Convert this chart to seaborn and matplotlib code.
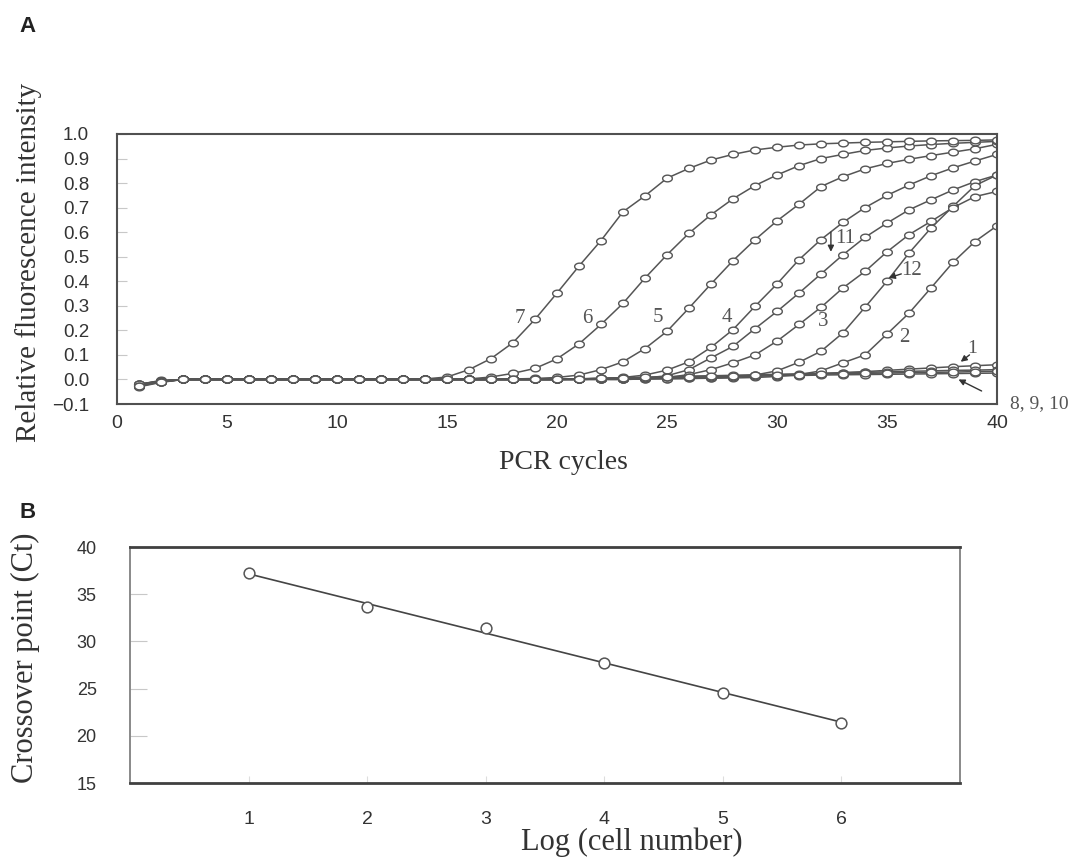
import numpy as np
import pandas as pd
import seaborn as sns
import matplotlib.pyplot as plt

# ---- panel A: amplification curves ----
cycles = list(range(1, 41))

curve_1 = [-0.025, -0.008, 0.0, 0.0, 0.0, 0.0, 0.0, 0.0, 0.0, 0.0,
           0.0, 0.0, 0.0, 0.0, 0.0, 0.0, 0.0, 0.0, 0.0, 0.0,
           0.0, 0.002, 0.003, 0.004, 0.005, 0.008, 0.010, 0.012, 0.015, 0.018,
           0.020, 0.024, 0.028, 0.032, 0.037, 0.042, 0.047, 0.052, 0.056, 0.060]
curve_2 = [-0.022, -0.006, 0.0, 0.0, 0.0, 0.0, 0.0, 0.0, 0.0, 0.0,
           0.0, 0.0, 0.0, 0.0, 0.0, 0.0, 0.0, 0.0, 0.0, 0.0,
           0.0, 0.0, 0.0, 0.002, 0.003, 0.004, 0.005, 0.006, 0.008, 0.012,
           0.020, 0.035, 0.068, 0.100, 0.185, 0.270, 0.373, 0.477, 0.562, 0.626]
curve_3 = [-0.024, -0.008, 0.0, 0.0, 0.0, 0.0, 0.0, 0.0, 0.0, 0.0,
           0.0, 0.0, 0.0, 0.0, 0.0, 0.0, 0.0, 0.0, 0.0, 0.0,
           0.0, 0.002, 0.003, 0.005, 0.008, 0.020, 0.040, 0.068, 0.100, 0.156,
           0.224, 0.294, 0.373, 0.440, 0.520, 0.590, 0.644, 0.700, 0.745, 0.766]
curve_4 = [-0.020, -0.010, 0.0, 0.0, 0.0, 0.0, 0.0, 0.0, 0.0, 0.0,
           0.0, 0.0, 0.0, 0.0, 0.0, 0.0, 0.0, 0.0, 0.0, 0.0,
           0.002, 0.004, 0.008, 0.018, 0.038, 0.072, 0.131, 0.203, 0.298, 0.389,
           0.488, 0.570, 0.640, 0.700, 0.750, 0.792, 0.830, 0.862, 0.890, 0.917]
curve_5 = [-0.022, -0.008, 0.0, 0.0, 0.0, 0.0, 0.0, 0.0, 0.0, 0.0,
           0.0, 0.0, 0.0, 0.0, 0.0, 0.0, 0.0, 0.002, 0.004, 0.008,
           0.018, 0.040, 0.072, 0.126, 0.196, 0.291, 0.389, 0.484, 0.569, 0.646,
           0.714, 0.786, 0.826, 0.858, 0.880, 0.897, 0.912, 0.926, 0.940, 0.958]
curve_6 = [-0.020, -0.006, 0.0, 0.0, 0.0, 0.0, 0.0, 0.0, 0.0, 0.0,
           0.0, 0.0, 0.0, 0.0, 0.0, 0.002, 0.010, 0.025, 0.045, 0.084,
           0.145, 0.224, 0.310, 0.413, 0.508, 0.596, 0.671, 0.736, 0.790, 0.833,
           0.871, 0.900, 0.917, 0.933, 0.943, 0.951, 0.957, 0.962, 0.966, 0.970]
curve_7 = [-0.025, -0.010, 0.0, 0.0, 0.0, 0.0, 0.0, 0.0, 0.0, 0.0,
           0.0, 0.0, 0.0, 0.002, 0.010, 0.040, 0.085, 0.150, 0.245, 0.352,
           0.462, 0.566, 0.683, 0.748, 0.820, 0.860, 0.894, 0.917, 0.935, 0.946,
           0.955, 0.960, 0.963, 0.966, 0.968, 0.970, 0.972, 0.973, 0.974, 0.976]
curve_8 = [-0.030, -0.012, 0.0, 0.0, 0.0, 0.0, 0.0, 0.0, 0.0, 0.0,
           0.0, 0.0, 0.0, 0.0, 0.0, 0.0, 0.0, 0.0, 0.0, 0.0,
           0.002, 0.004, 0.005, 0.006, 0.008, 0.009, 0.010, 0.012, 0.013, 0.015,
           0.016, 0.018, 0.019, 0.020, 0.021, 0.022, 0.023, 0.024, 0.025, 0.026]
curve_9 = [-0.028, -0.010, 0.0, 0.0, 0.0, 0.0, 0.0, 0.0, 0.0, 0.0,
           0.0, 0.0, 0.0, 0.0, 0.0, 0.0, 0.0, 0.0, 0.0, 0.0,
           0.002, 0.004, 0.006, 0.008, 0.010, 0.012, 0.014, 0.015, 0.017, 0.019,
           0.020, 0.022, 0.023, 0.025, 0.026, 0.028, 0.029, 0.030, 0.032, 0.033]
curve_10 = [-0.026, -0.009, 0.0, 0.0, 0.0, 0.0, 0.0, 0.0, 0.0, 0.0,
            0.0, 0.0, 0.0, 0.0, 0.0, 0.0, 0.0, 0.0, 0.0, 0.0,
            0.003, 0.005, 0.007, 0.009, 0.011, 0.013, 0.015, 0.017, 0.019, 0.021,
            0.023, 0.025, 0.027, 0.029, 0.031, 0.033, 0.035, 0.037, 0.038, 0.040]
curve_11 = [-0.020, -0.004, 0.0, 0.0, 0.0, 0.0, 0.0, 0.0, 0.0, 0.0,
            0.0, 0.0, 0.0, 0.0, 0.0, 0.0, 0.0, 0.0, 0.0, 0.0,
            0.0, 0.002, 0.003, 0.006, 0.015, 0.040, 0.088, 0.135, 0.207, 0.277,
            0.352, 0.430, 0.508, 0.579, 0.637, 0.691, 0.732, 0.772, 0.806, 0.833]
curve_12 = [-0.020, -0.005, 0.0, 0.0, 0.0, 0.0, 0.0, 0.0, 0.0, 0.0,
            0.0, 0.0, 0.0, 0.0, 0.0, 0.0, 0.0, 0.0, 0.0, 0.0,
            0.0, 0.0, 0.0, 0.002, 0.003, 0.004, 0.006, 0.010, 0.018, 0.035,
            0.070, 0.115, 0.190, 0.294, 0.400, 0.515, 0.617, 0.705, 0.790, 0.833]

a_xticks = [0, 5, 10, 15, 20, 25, 30, 35, 40]
a_yticks = [-0.1, 0.0, 0.1, 0.2, 0.3, 0.4, 0.5, 0.6, 0.7, 0.8, 0.9, 1.0]

# ---- panel B: standard curve ----
log_cells = [1, 2, 3, 4, 5, 6]
crossover_ct = [37.2, 33.6, 31.4, 27.7, 24.5, 21.4]
b_xticks = [1, 2, 3, 4, 5, 6]
b_yticks = [15, 20, 25, 30, 35, 40]

curves = {"1": curve_1, "2": curve_2, "3": curve_3, "4": curve_4,
          "5": curve_5, "6": curve_6, "7": curve_7, "8": curve_8,
          "9": curve_9, "10": curve_10, "11": curve_11, "12": curve_12}
df_a = pd.DataFrame(
    [(name, c, v) for name, vals in curves.items() for c, v in zip(cycles, vals)],
    columns=["curve", "cycle", "intensity"])

sns.set_theme(style="white")
plt.rcParams["font.family"] = ["Liberation Sans", "DejaVu Sans"]
SERIF = ["Liberation Serif", "DejaVu Serif"]
ink = "#555555"
text_col = "#333333"

fig = plt.figure(figsize=(10.86, 8.6), dpi=100)
ax_a = fig.add_axes([117 / 1086, 1 - 404 / 860, 880 / 1086, 270 / 860])
ax_b = fig.add_axes([130 / 1086, 1 - 783 / 860, 830 / 1086, 236 / 860])

# small horizontal ovals like the original markers
theta = np.linspace(0, 2 * np.pi, 25)
oval = np.column_stack([1.45 * np.cos(theta), np.sin(theta)])

sns.lineplot(data=df_a, x="cycle", y="intensity", units="curve", estimator=None,
             ax=ax_a, color=ink, linewidth=1.1, marker=oval, markersize=7,
             markerfacecolor="white", markeredgecolor=ink, markeredgewidth=1.0,
             legend=False)

ax_a.set_xlim(0, 40)
ax_a.set_ylim(-0.1, 1.0)
ax_a.set_xticks(a_xticks)
ax_a.set_xticklabels([str(t) for t in a_xticks])
ax_a.set_yticks(a_yticks)
ax_a.set_yticklabels([f"{t:.1f}".replace("-", "\u2212") for t in a_yticks])
ax_a.tick_params(axis="y", left=True, direction="in", length=7, width=0.8,
                 color="#c8c8c8", pad=20, labelsize=13.5, labelcolor=text_col)
ax_a.tick_params(axis="x", bottom=False, length=0, pad=8, labelsize=14,
                 labelcolor=text_col)
for sp in ax_a.spines.values():
    sp.set_color("#505050")
    sp.set_linewidth(1.5)

ax_a.set_xlabel("PCR cycles", fontfamily=SERIF, fontsize=20, color=text_col)
ax_a.xaxis.set_label_coords(0.507, -0.215)
ax_a.xaxis.label.set_va("center")
ax_a.set_ylabel("Relative fluorescence intensity", fontfamily=SERIF,
                fontsize=21, color=text_col)
ax_a.yaxis.set_label_coords(-0.101, 0.526)
ax_a.yaxis.label.set_va("center")

lab_kw = dict(fontfamily=SERIF, fontsize=15, color="#555555",
              ha="center", va="center")
for txt, x, y in [("7", 18.3, 0.25), ("6", 21.4, 0.25), ("5", 24.6, 0.253),
                  ("4", 27.7, 0.253), ("3", 32.1, 0.237), ("2", 35.8, 0.17)]:
    ax_a.text(x, y, txt, **lab_kw)

arrow = dict(arrowstyle="-|>", color="#333333", lw=1.0, mutation_scale=9,
             shrinkA=0, shrinkB=0)
ax_a.annotate("", xy=(32.45, 0.52), xytext=(32.45, 0.60), arrowprops=arrow)
ax_a.text(32.65, 0.575, "11", fontfamily=SERIF, fontsize=15, color="#555555",
          ha="left", va="center")
ax_a.annotate("", xy=(35.08, 0.414), xytext=(35.65, 0.43), arrowprops=arrow)
ax_a.text(35.65, 0.445, "12", fontfamily=SERIF, fontsize=15, color="#555555",
          ha="left", va="center")
ax_a.annotate("", xy=(38.35, 0.072), xytext=(38.75, 0.10), arrowprops=arrow)
ax_a.text(38.85, 0.125, "1", fontfamily=SERIF, fontsize=14, color="#555555",
          ha="center", va="center")
ax_a.annotate("", xy=(38.25, 0.0), xytext=(39.3, -0.047), arrowprops=arrow)
ax_a.text(40.6, -0.1, "8, 9, 10", fontfamily=SERIF, fontsize=14,
          color="#555555", ha="left", va="center", clip_on=False)

# ---- panel B ----
sns.regplot(x=log_cells, y=crossover_ct, ax=ax_b, ci=None, marker="o",
            color=ink,
            scatter_kws={"s": 60, "facecolors": "white", "edgecolors": ink,
                         "linewidths": 1.1, "alpha": 1, "zorder": 3},
            line_kws={"linewidth": 1.2, "color": "#444444", "zorder": 2})

ax_b.set_xlim(0, 7)
ax_b.set_ylim(15, 40)
ax_b.set_xticks(b_xticks)
ax_b.set_xticklabels([str(t) for t in b_xticks])
ax_b.set_yticks(b_yticks)
ax_b.set_yticklabels([str(t) for t in b_yticks])
ax_b.tick_params(axis="y", left=True, direction="in", length=12, width=0.8,
                 color="#c8c8c8", pad=24, labelsize=13, labelcolor=text_col)
ax_b.tick_params(axis="x", bottom=True, direction="in", length=5, width=0.8,
                 color="#dddddd", pad=20, labelsize=14, labelcolor=text_col)
for side, sp in ax_b.spines.items():
    if side in ("top", "bottom"):
        sp.set_color("#404040")
        sp.set_linewidth(2.0)
    else:
        sp.set_color("#808080")
        sp.set_linewidth(1.3)

ax_b.set_xlabel("Log (cell number)", fontfamily=SERIF, fontsize=22,
                color=text_col)
ax_b.xaxis.set_label_coords((632 - 130) / 830, -0.252)
ax_b.xaxis.label.set_va("center")
ax_b.set_ylabel("Crossover point (Ct)", fontfamily=SERIF, fontsize=22,
                color=text_col)
ax_b.yaxis.set_label_coords(-0.1265, 0.53)
ax_b.yaxis.label.set_va("center")

fig.text(28 / 1086, 1 - 27 / 860, "A", fontsize=16, fontweight="bold",
         color="#222222", ha="center", va="center")
fig.text(28 / 1086, 1 - 512 / 860, "B", fontsize=16, fontweight="bold",
         color="#222222", ha="center", va="center")

fig.savefig("out.png", dpi=100)
